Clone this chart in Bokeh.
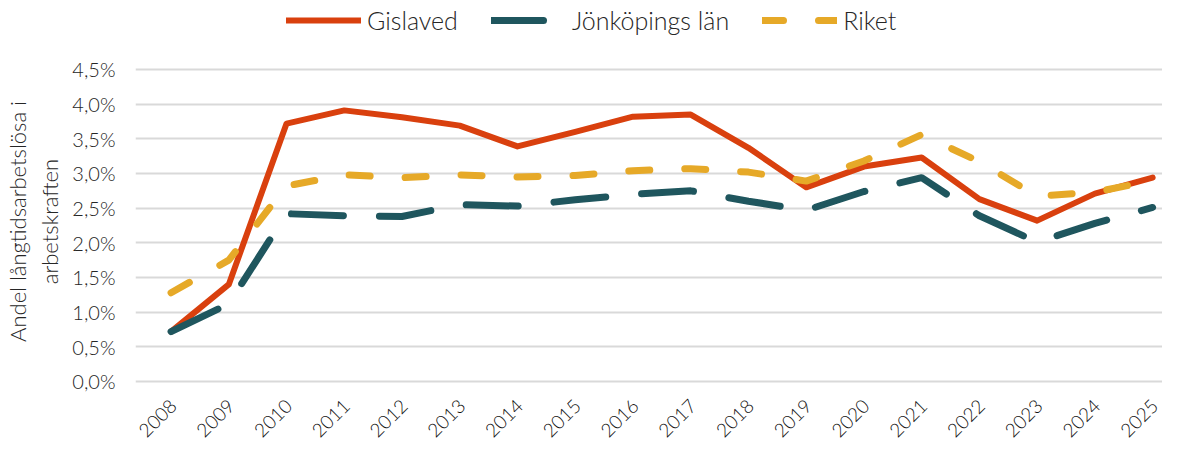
from bokeh.plotting import figure
from bokeh.models import Range1d, FixedTicker, Legend, LegendItem, ColumnDataSource
from bokeh.embed import file_html
from bokeh.resources import INLINE
from bokeh.core.properties import value
import math

years = list(range(2008, 2026))
year_labels = [str(y) for y in years]
gislaved = [0.72, 1.40, 3.72, 3.91, 3.81, 3.69, 3.39, 3.60, 3.82, 3.85, 3.37, 2.80, 3.10, 3.23, 2.63, 2.32, 2.71, 2.94]
jonkoping = [0.72, 1.12, 2.42, 2.39, 2.38, 2.55, 2.53, 2.62, 2.70, 2.75, 2.60, 2.47, 2.74, 2.94, 2.39, 2.01, 2.28, 2.51]
riket = [1.28, 1.75, 2.82, 2.98, 2.94, 2.98, 2.95, 2.97, 3.04, 3.07, 3.02, 2.89, 3.18, 3.56, 3.17, 2.67, 2.73, 2.90]
y_ticks = [0, 0.5, 1.0, 1.5, 2.0, 2.5, 3.0, 3.5, 4.0, 4.5]
y_tick_labels = ["0,0%", "0,5%", "1,0%", "1,5%", "2,0%", "2,5%", "3,0%", "3,5%", "4,0%", "4,5%"]

FONT = "Lato Light, Lato"
RED = "#D9400E"
TEAL = "#1F565E"
YEL = "#E6A928"

p = figure(width=1162, height=442, output_backend="svg", toolbar_location=None,
           x_range=Range1d(2007.384, 2025.171), y_range=Range1d(-0.88, 5.495),
           min_border_left=123, min_border_right=0, min_border_top=0, min_border_bottom=0)
p.outline_line_color = None
p.background_fill_color = "white"

src = ColumnDataSource(dict(x=years, g=gislaved, j=jonkoping, r=riket))
lr = p.line("x", "g", source=src, line_color=RED, line_width=6, line_join="round", line_cap="round")
lj = p.line("x", "j", source=src, line_color=TEAL, line_width=7, line_dash="52 36", line_cap="round", line_join="round")
ly = p.line("x", "r", source=src, line_color=YEL, line_width=7, line_dash="21 35", line_cap="round", line_join="round")

# x-axis year labels, rotated, placed just below the 0 % line
lab_src = ColumnDataSource(dict(x=years, y=[0] * len(years), t=year_labels))
p.text("x", "y", text="t", source=lab_src, angle=math.pi / 4, text_align="right",
       text_baseline="middle", x_offset=2, y_offset=21,
       text_font=value(FONT), text_font_size="19px", text_color="#111111")

p.xaxis.visible = False
p.xgrid.grid_line_color = None
p.ygrid.grid_line_color = "#D9D9D9"
p.ygrid.grid_line_width = 2
p.yaxis.ticker = FixedTicker(ticks=y_ticks)
p.yaxis.major_label_overrides = {t: l for t, l in zip(y_ticks, y_tick_labels)}

ax = p.yaxis[0]
ax.axis_line_color = None
ax.major_tick_line_color = None
ax.minor_tick_line_color = None
ax.major_label_text_font = FONT
ax.major_label_text_color = "#262626"
ax.major_label_text_font_size = "20px"
ax.major_label_standoff = 14
ax.axis_label = "Andel långtidsarbetslösa i\narbetskraften"
ax.axis_label_text_font = FONT
ax.axis_label_text_font_size = "22px"
ax.axis_label_text_font_style = "normal"
ax.axis_label_text_color = "#262626"
ax.axis_label_standoff = 6

legend = Legend(items=[LegendItem(label="Gislaved", renderers=[lr]),
                       LegendItem(label="Jönköpings län", renderers=[lj]),
                       LegendItem(label="Riket", renderers=[ly])],
                orientation="horizontal", location=(151, 407),
                label_text_font=FONT, label_text_font_size="25px", label_text_color="#262626",
                glyph_width=75, glyph_height=24, spacing=33, label_standoff=6,
                border_line_color=None, background_fill_alpha=0, padding=4, margin=0)
p.add_layout(legend, "center")

open("out.html", "w").write(file_html(p, INLINE))
